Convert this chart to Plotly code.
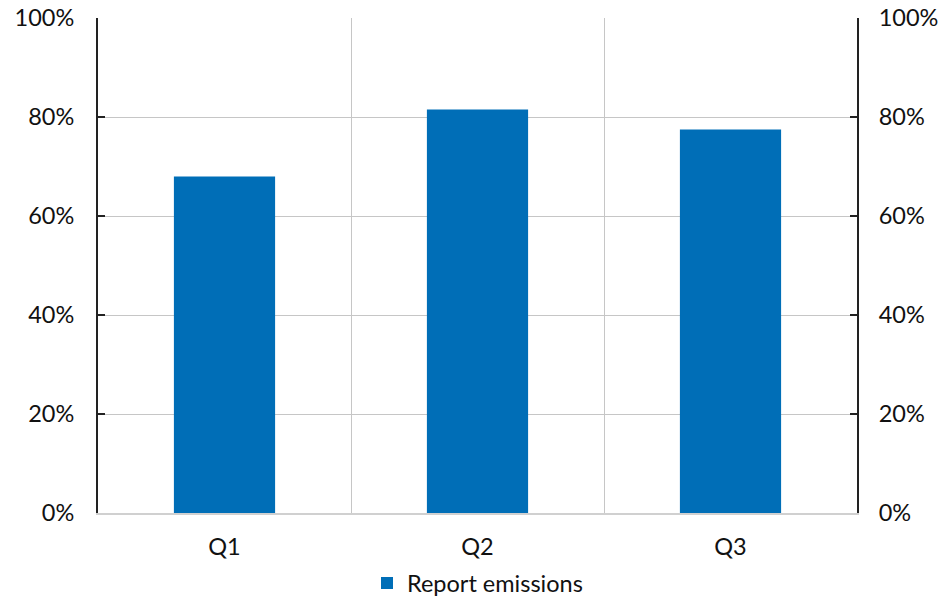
import plotly.graph_objects as go

# Quarterly share of reported emissions
quarters = ["Q1", "Q2", "Q3"]
report_share = [0.68, 0.815, 0.775]
series_name = "Report emissions"

tick_vals = [0, 0.2, 0.4, 0.6, 0.8, 1.0]
tick_text = ["0%", "20%", "40%", "60%", "80%", "100%"]

BAR_BLUE = "#006EB7"
GRID = "#C6C6C6"
FONT = dict(family="Lato, Carlito, 'Open Sans', sans-serif", size=23.5, color="#111111")

fig = go.Figure()
fig.add_trace(go.Bar(
    x=quarters, y=report_share, name=series_name,
    marker=dict(color=BAR_BLUE, line=dict(width=0)),
    width=0.4,
))
# invisible companion trace to carry the right-hand axis
fig.add_trace(go.Scatter(
    x=quarters, y=report_share, yaxis="y2", mode="none",
    showlegend=False, hoverinfo="skip",
))

axis_common = dict(
    range=[0, 1], tickmode="array", tickvals=tick_vals, ticktext=tick_text,
    showline=True, linecolor="#222222", linewidth=2,
    ticks="inside", ticklen=7, tickwidth=2, tickcolor="#222222",
    zeroline=False, tickfont=FONT, automargin=False,
)

fig.update_layout(
    width=940, height=597,
    margin=dict(l=98, r=83, t=18, b=84, autoexpand=False),
    paper_bgcolor="white", plot_bgcolor="white",
    font=FONT,
    bargap=0.6,
    xaxis=dict(
        type="category", tickson="boundaries",
        showgrid=True, gridcolor=GRID, gridwidth=1,
        showline=True, linecolor="#D0D0D0", linewidth=2,
        ticks="", ticklabelstandoff=12, tickfont=FONT, automargin=False,
    ),
    yaxis=dict(**axis_common, side="left", ticklabelstandoff=17,
               showgrid=True, gridcolor=GRID, gridwidth=1),
    yaxis2=dict(**axis_common, side="right", overlaying="y", ticklabelstandoff=15,
                showgrid=False),
    legend=dict(
        orientation="h", x=0.5, xanchor="center",
        yref="container", y=0.023, yanchor="middle",
        font=FONT, itemsizing="constant",
    ),
    showlegend=True,
)

fig.write_html("out.html")
